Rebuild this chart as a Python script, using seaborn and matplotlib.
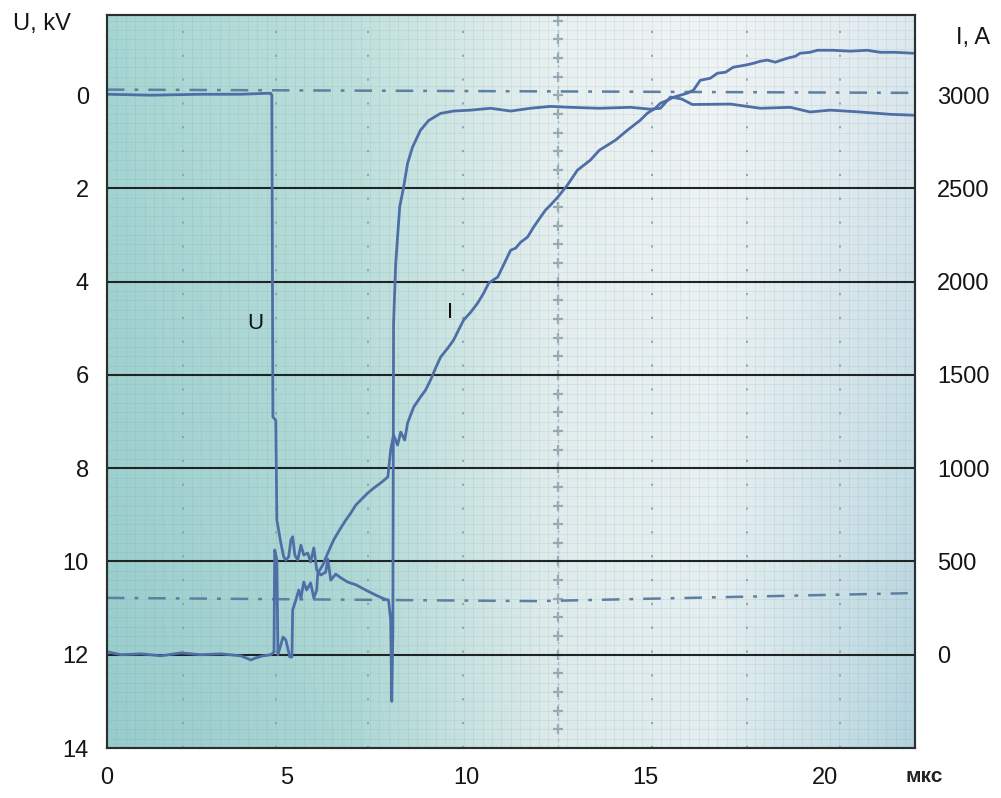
import matplotlib
matplotlib.use("Agg")
import matplotlib.pyplot as plt
from matplotlib.ticker import MultipleLocator
import seaborn as sns
import numpy as np

sns.set_style("white")
plt.rcParams["font.family"] = ["Liberation Sans", "DejaVu Sans"]
plt.rcParams["text.color"] = "#151515"
plt.rcParams["xtick.color"] = "#151515"
plt.rcParams["ytick.color"] = "#151515"

# ---- data (time in µs) ----
U_T = [0.03, 1.22, 2.61, 3.73, 4.42, 4.56, 4.59, 4.62, 4.70, 4.73, 4.84, 4.92,
       4.98, 5.06, 5.12, 5.17, 5.23, 5.31, 5.40, 5.48, 5.59, 5.67, 5.76, 5.84,
       5.95, 6.09, 6.15, 6.23, 6.37, 6.51, 6.70, 6.93, 7.20, 7.48, 7.71, 7.84,
       7.90, 7.93, 7.96, 7.98, 8.04, 8.15, 8.26, 8.37, 8.51, 8.73, 8.96, 9.29,
       9.65, 10.13, 10.68, 11.24, 11.79, 12.35, 12.91, 13.71, 14.58, 15.13,
       15.41, 15.69, 16.00, 16.30, 17.36, 18.19, 19.03, 19.58, 20.14, 20.97,
       21.81, 22.50]
U_KV = [-0.02, 0.00, -0.02, -0.02, -0.04, -0.04, 0.00, 6.90, 6.97, 9.11, 9.60, 9.90,
        9.97, 9.90, 9.54, 9.47, 9.86, 9.97, 9.65, 9.86, 9.82, 10.01, 9.71, 10.18,
        10.29, 10.23, 9.95, 10.40, 10.27, 10.35, 10.44, 10.50, 10.61, 10.72, 10.80, 10.83,
        11.25, 13.00, 11.50, 4.89, 3.60, 2.40, 1.97, 1.46, 1.11, 0.75, 0.54, 0.39,
        0.34, 0.32, 0.28, 0.34, 0.28, 0.24, 0.26, 0.28, 0.26, 0.30,
        0.28, 0.04, 0.08, 0.20, 0.19, 0.28, 0.26, 0.36, 0.32, 0.36,
        0.41, 0.43]

I_T = [0.03, 0.39, 0.95, 1.50, 2.06, 2.61, 3.17, 3.73, 4.01, 4.14, 4.34, 4.56,
       4.65, 4.67, 4.73, 4.76, 4.84, 4.90, 4.98, 5.09, 5.15, 5.17, 5.26, 5.34,
       5.40, 5.48, 5.56, 5.67, 5.76, 5.84, 5.87, 6.01, 6.15, 6.31, 6.51, 6.65,
       6.79, 6.93, 7.07, 7.26, 7.43, 7.62, 7.82, 7.90, 7.98, 8.09, 8.18, 8.29,
       8.37, 8.54, 8.73, 8.87, 9.01, 9.15, 9.29, 9.49, 9.65, 9.79, 9.93, 10.13,
       10.32, 10.49, 10.63, 10.88, 11.04, 11.24, 11.38, 11.52, 11.71, 11.88, 12.07,
       12.21, 12.35, 12.55, 12.82, 13.10, 13.46, 13.71, 14.16, 14.49, 14.85, 15.05,
       15.27, 15.41, 15.61, 15.77, 15.97, 16.16, 16.33, 16.52, 16.80, 17.00, 17.22,
       17.44, 17.77, 18.00, 18.19, 18.39, 18.61, 18.94, 19.17, 19.30, 19.58, 19.78,
       20.22, 20.70, 21.17, 21.53, 21.95, 22.45]
I_A = [15, 0, 5, -6, 10, 0, 5, -6, -28, -17, -6, 0,
       15, 562, 508, 0, 53, 95, 79, -12, -12, 240, 294, 347,
       304, 390, 347, 385, 304, 347, 438, 481, 546, 615, 680, 722,
       760, 803, 830, 867, 894, 921, 953, 1098, 1178, 1124, 1194, 1151,
       1242, 1328, 1382, 1419, 1473, 1537, 1596, 1644, 1687, 1741, 1794, 1837,
       1885, 1939, 1993, 2025, 2089, 2169, 2180, 2212, 2239, 2293, 2346,
       2384, 2411, 2453, 2518, 2598, 2652, 2705, 2759, 2812, 2866, 2904,
       2930, 2957, 2973, 2989, 3000, 3011, 3027, 3080, 3091, 3118, 3123,
       3150, 3161, 3171, 3182, 3188, 3177, 3198, 3209, 3225, 3230, 3241,
       3241, 3236, 3241, 3230, 3230, 3225]

# dash-dot reference levels (in kV)
REF_T = [0.0, 22.5]
REF_TOP = [-0.12, -0.05]
REF2_T = [0.0, 12.0, 22.3]
REF2_KV = [10.78, 10.85, 10.68]

X_TICKS = [0, 5, 10, 15, 20]
U_TICKS = [0, 2, 4, 6, 8, 10, 12, 14]
I_TICKS = [0, 500, 1000, 1500, 2000, 2500, 3000]
H_LINES = [2, 4, 6, 8, 10, 12]
GRID_T = [2.11, 4.70, 7.26, 9.90, 15.19, 17.83, 20.42]
CENTER_T = 12.55

TRACE = "#4d6fa6"
FS = 17

fig = plt.figure(figsize=(10.01, 7.98), dpi=100)
ax = fig.add_axes([107 / 1001, 50 / 798, 808 / 1001, 733 / 798])

# photo-like background: teal on the left, pale in the middle, bluish right
xs = np.linspace(0, 1, 300)
stops = [0.0, 0.3, 0.55, 0.75, 1.0]
top_c = np.array([[166, 214, 211], [190, 224, 220], [232, 240, 240], [240, 244, 245], [222, 233, 238]]) / 255
bot_c = np.array([[152, 204, 204], [170, 214, 212], [220, 234, 234], [226, 238, 240], [179, 211, 221]]) / 255
top_row = np.stack([np.interp(xs, stops, top_c[:, k]) for k in range(3)], axis=1)
bot_row = np.stack([np.interp(xs, stops, bot_c[:, k]) for k in range(3)], axis=1)
w = np.linspace(0, 1, 150)[:, None, None]
bg = top_row[None] * (1 - w) + bot_row[None] * w
ax.imshow(bg, extent=(0, 1, 0, 1), transform=ax.transAxes, aspect="auto", zorder=0)

ax.set_xlim(0, 22.5)
ax.set_ylim(14, -1.72)

# fine graticule
ax.xaxis.set_minor_locator(MultipleLocator(0.2615))
ax.yaxis.set_minor_locator(MultipleLocator(0.2))
ax.grid(which="minor", color="#6f8f93", alpha=0.14, lw=0.6)
ax.grid(which="major", visible=False)

for t in GRID_T:
    ax.axvline(t, color="#8aa2aa", lw=1.3, ls=(0, (1.2, 12)), zorder=1)
cross_y = np.arange(-1.6, 14.0, 0.4)
ax.plot([CENTER_T] * len(cross_y), cross_y, ls="none", marker="+",
        ms=7, mew=1.6, color="#93a9b5", zorder=1)
ax.axvline(CENTER_T, color="#a7bac4", lw=1.0, ls=(0, (2, 3)), zorder=1)

for u in H_LINES:
    ax.axhline(u, color="#1f2424", lw=1.5, zorder=2)

ax.plot(REF_T, REF_TOP, color="#5d7fa0", lw=1.8, ls=(0, (7, 4, 1.5, 4)), zorder=3)
ax.plot(REF2_T, REF2_KV, color="#5d7fa0", lw=1.8, ls=(0, (7, 4, 1.5, 4)), zorder=3)

sns.lineplot(x=U_T, y=U_KV, ax=ax, sort=False, estimator=None,
             color=TRACE, lw=2.0, zorder=4)

ax.set_xticks(X_TICKS)
ax.set_yticks(U_TICKS)
ax.tick_params(axis="both", which="both", length=0, labelsize=FS)
ax.tick_params(axis="x", pad=14)
ax.tick_params(axis="y", pad=13)
ax.set_xlabel("")
ax.set_ylabel("")

ax2 = ax.twinx()
ax2.set_ylim(3000 - 250 * 14, 3000 + 250 * 1.72)
sns.lineplot(x=I_T, y=I_A, ax=ax2, sort=False, estimator=None,
             color=TRACE, lw=2.0)
ax2.set_yticks(I_TICKS)
ax2.tick_params(axis="y", length=0, labelsize=FS, pad=16)
ax2.set_ylabel("")
ax2.grid(False)

for a in (ax, ax2):
    for s in a.spines.values():
        s.set_color("#2a2f30")
        s.set_linewidth(1.5)

ax.text(4.14, 4.9, "U", fontsize=16, ha="center", va="center", color="#111")
ax.text(9.54, 4.65, "I", fontsize=16, ha="center", va="center", color="#111")

fig.text(13 / 1001, 1 - 24 / 798, "U, kV", fontsize=FS, ha="left", va="center")
fig.text(973 / 1001, 1 - 38 / 798, "I, A", fontsize=FS, ha="center", va="center")
fig.text(924 / 1001, 1 - 776 / 798, "мкс", fontsize=15, fontweight="bold",
         ha="center", va="center", color="#222")

fig.savefig("out.png", dpi=100)
